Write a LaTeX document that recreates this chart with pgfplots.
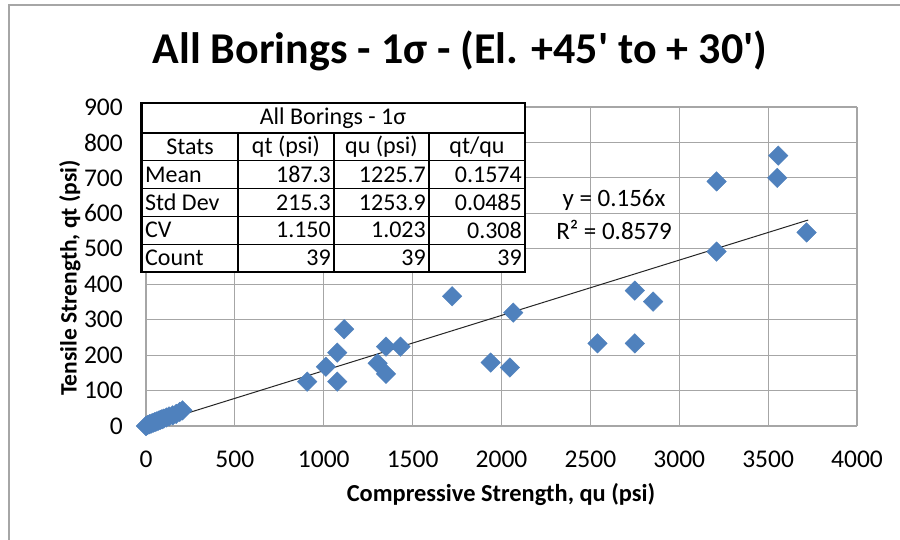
\documentclass[border=0pt]{standalone}
\usepackage{pgfplots}
\pgfplotsset{compat=1.18}
\usepackage{fontspec}
\setmainfont{Carlito}
\definecolor{exblue}{HTML}{4F81BD}
\definecolor{gridgray}{HTML}{A6A6A6}
\begin{document}
\begin{tikzpicture}[x=1pt,y=1pt]
\path[use as bounding box,fill=white] (0,0) rectangle (900,540);
\draw[gridgray,line width=1.5pt] (9,0) -- (9,535) -- (900,535);
\node[font=\fontsize{44}{44}\selectfont\bfseries] at (460,489) {All Borings - 1σ - (El. +45\textquotesingle{} to + 30\textquotesingle)};
\begin{axis}[
  at={(146pt,114pt)}, anchor=south west,
  scale only axis, width=711pt, height=319pt,
  xmin=0, xmax=4000, ymin=0, ymax=900,
  xtick={0,500,...,4000}, ytick={0,100,...,900},
  grid=major, major grid style={gridgray,line width=1.2pt},
  axis line style={gridgray,line width=1.2pt},
  axis x line*=bottom, axis y line*=left,
  x axis line style={-}, y axis line style={-},
  major tick length=0pt,
  /pgf/number format/assume math mode=true,
  /pgf/number format/1000 sep={},
  tick label style={font=\fontsize{25.5}{25.5}\selectfont, inner sep=0pt},
  xticklabel style={anchor=north, yshift=-25pt},
  yticklabel style={anchor=east, xshift=-23pt},
  clip=false,
]
\addplot[only marks, mark=square*, mark size=6.9pt,
  mark options={rotate=45, fill=exblue, draw=exblue}] coordinates {
(0,0) (10,3) (20,5) (30,7) (40,9) (50,11) (60,13) (70,15) (80,17) (90,19)
(100,21) (115,24) (130,27) (150,30) (170,34) (190,40) (205,44)
(907,125) (1012,167) (1076,207) (1076,125) (1115,273) (1303,177) (1350,147)
(1350,224) (1432,224) (1722,366) (2066,320) (1939,179) (2047,165)
(3557,763) (3210,690) (3551,700) (3716,546) (3210,492) (2750,382)
(2853,351) (2540,233) (2750,233)
};
\addplot[black!85, line width=1pt] coordinates {(0,0) (3725,581.1)};
\end{axis}
\node[font=\fontsize{25}{25}\selectfont] at (614,340) {y = 0.156x};
\node[font=\fontsize{25}{25}\selectfont] at (614,310) {R² = 0.8579};
\node[font=\fontsize{24.4}{24.4}\selectfont\bfseries] at (501,45) {Compressive Strength, qu (psi)};
\node[font=\fontsize{23.5}{23.5}\selectfont\bfseries, rotate=90] at (70,262) {Tensile Strength, qt (psi)};
% stats table
\begin{scope}[font=\fontsize{24}{24}\selectfont]
\fill[white] (141.5,268) rectangle (525,437);
\draw[black, line width=1.2pt] (141.5,407) -- (525,407);
\foreach \y in {379.2,351.4,323.6,295.8} \draw[black, line width=1.2pt] (141.5,\y) -- (525,\y);
\foreach \x in {238,334,429} \draw[black, line width=1.2pt] (\x,268) -- (\x,407);
\draw[black, line width=2.2pt] (141.5,268) rectangle (525,437);
\node at (333,422) {All Borings - 1σ};
\node at (190,393.1) {Stats};
\node at (286,393.1) {qt (psi)};
\node at (381.5,393.1) {qu (psi)};
\node at (477,393.1) {qt/qu};
\node[anchor=west,inner sep=0pt] at (145,365.3) {Mean};
\node[anchor=west,inner sep=0pt] at (145,337.5) {Std Dev};
\node[anchor=west,inner sep=0pt] at (145,309.7) {CV};
\node[anchor=west,inner sep=0pt] at (145,281.9) {Count};
\node[anchor=east,inner sep=0pt] at (331,365.3) {187.3};
\node[anchor=east,inner sep=0pt] at (426,365.3) {1225.7};
\node[anchor=east,inner sep=0pt] at (522,365.3) {0.1574};
\node[anchor=east,inner sep=0pt] at (331,337.5) {215.3};
\node[anchor=east,inner sep=0pt] at (426,337.5) {1253.9};
\node[anchor=east,inner sep=0pt] at (522,337.5) {0.0485};
\node[anchor=east,inner sep=0pt] at (331,309.7) {1.150};
\node[anchor=east,inner sep=0pt] at (426,309.7) {1.023};
\node[anchor=east,inner sep=0pt] at (522,309.7) {0.308};
\node[anchor=east,inner sep=0pt] at (331,281.9) {39};
\node[anchor=east,inner sep=0pt] at (426,281.9) {39};
\node[anchor=east,inner sep=0pt] at (522,281.9) {39};
\end{scope}
\end{tikzpicture}
\end{document}
